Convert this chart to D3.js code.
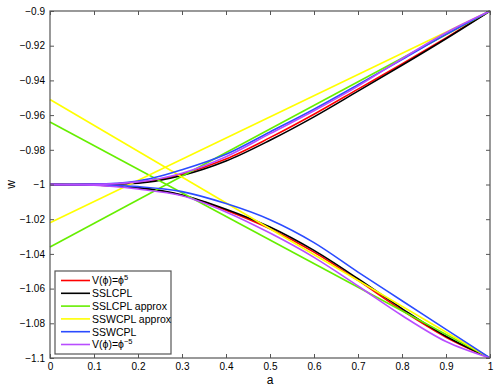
<!DOCTYPE html>
<html>
<head>
<meta charset="utf-8">
<script src="https://cdn.jsdelivr.net/npm/d3@7"></script>
<style>
  body { margin: 0; background: #fff; }
  text { font-family: "Liberation Sans", Arial, sans-serif; }
</style>
</head>
<body>
<script>
// scale factor values along a
var aGrid = [0, 0.1, 0.2, 0.3, 0.4, 0.5, 0.6, 0.7, 0.8, 0.9, 1];

// upper branches (w -> -0.9)
var redUp    = [-1, -0.9999, -0.999, -0.994, -0.9853, -0.973, -0.9595, -0.945, -0.9305, -0.9155, -0.9];
var blackUp  = [-1, -0.9999, -0.9992, -0.9948, -0.9865, -0.9745, -0.961, -0.9462, -0.9313, -0.916, -0.9];
var blueUp   = [-1, -0.9998, -0.998, -0.9915, -0.9826, -0.9697, -0.9566, -0.9425, -0.928, -0.9135, -0.9];
var purpleUp = [-1, -0.9999, -0.9985, -0.9935, -0.984, -0.9707, -0.9575, -0.9433, -0.9275, -0.9125, -0.9];

// lower branches (w -> -1.1)
var redLo    = [-1, -1.0003, -1.002, -1.0062, -1.0148, -1.0255, -1.039, -1.0553, -1.0725, -1.088, -1.1];
var blackLo  = [-1, -1.0003, -1.0018, -1.006, -1.0142, -1.0245, -1.038, -1.0543, -1.0715, -1.0875, -1.1];
var blueLo   = [-1, -1.0002, -1.0012, -1.0041, -1.011, -1.0203, -1.0335, -1.0505, -1.067, -1.0835, -1.1];
var purpleLo = [-1, -1.0004, -1.0026, -1.0065, -1.0158, -1.028, -1.042, -1.0585, -1.0755, -1.0905, -1.1];

// straight approximations: [w at a=0, w at a=1]
var aEnds = [0, 1];
var greenUp  = [-1.036, -0.9];
var greenLo  = [-0.964, -1.1];
var yellowUp = [-1.022, -0.9];
var yellowLo = [-0.951, -1.1];

var xTicks = [0, 0.1, 0.2, 0.3, 0.4, 0.5, 0.6, 0.7, 0.8, 0.9, 1];
var yTicks = [-1.1, -1.08, -1.06, -1.04, -1.02, -1, -0.98, -0.96, -0.94, -0.92, -0.9];

var legendNames = ["V(\u03d5)=\u03d5", "SSLCPL", "SSLCPL approx", "SSWCPL approx", "SSWCPL", "V(\u03d5)=\u03d5"];
var legendSup = ["5", "", "", "", "", "\u22125"];
var colors = ["#ff0000", "#000000", "#66ee00", "#ffff00", "#2a4bff", "#b84dff"];

window.onload = function () {
    var w = 498, h = 391;
    var pLeft = 50, pRight = 490, pTop = 11, pBottom = 358;

    var svg = d3.select("body").append("svg")
        .attr("width", w)
        .attr("height", h);

    var x = d3.scaleLinear().domain([0, 1]).range([pLeft, pRight]);
    var y = d3.scaleLinear().domain([-1.1, -0.9]).range([pBottom, pTop]);

    // series in drawing order (legend order)
    var series = [
        {c: 0, a: aGrid, up: redUp, lo: redLo},
        {c: 1, a: aGrid, up: blackUp, lo: blackLo},
        {c: 2, a: aEnds, up: greenUp, lo: greenLo},
        {c: 3, a: aEnds, up: yellowUp, lo: yellowLo},
        {c: 4, a: aGrid, up: blueUp, lo: blueLo},
        {c: 5, a: aGrid, up: purpleUp, lo: purpleLo}
    ];

    var line = d3.line()
        .x(function(d) { return x(d[0]); })
        .y(function(d) { return y(d[1]); })
        .curve(d3.curveMonotoneX);

    var plot = svg.append("g");
    series.forEach(function(s) {
        [s.up, s.lo].forEach(function(vals) {
            plot.append("path")
                .datum(s.a.map(function(a, i) { return [a, vals[i]]; }))
                .attr("d", line)
                .attr("fill", "none")
                .attr("stroke", colors[s.c])
                .attr("stroke-width", 1.6);
        });
    });

    // axes with inward ticks on all four sides
    var fmt = d3.format("");
    var axColor = "#555";
    function styleAxis(g) {
        g.select(".domain").remove();
        g.selectAll("line").attr("stroke", axColor);
        g.selectAll("text").attr("font-size", 10).attr("fill", "#000");
    }
    svg.append("g").attr("transform", "translate(0," + pBottom + ")")
        .call(d3.axisBottom(x).tickValues(xTicks).tickFormat(fmt).tickSizeInner(-4).tickSizeOuter(0).tickPadding(5))
        .call(styleAxis);
    svg.append("g").attr("transform", "translate(0," + pTop + ")")
        .call(d3.axisTop(x).tickValues(xTicks).tickFormat("").tickSizeInner(-4).tickSizeOuter(0))
        .call(styleAxis);
    svg.append("g").attr("transform", "translate(" + pLeft + ",0)")
        .call(d3.axisLeft(y).tickValues(yTicks).tickFormat(fmt).tickSizeInner(-4).tickSizeOuter(0).tickPadding(5))
        .call(styleAxis);
    svg.append("g").attr("transform", "translate(" + pRight + ",0)")
        .call(d3.axisRight(y).tickValues(yTicks).tickFormat("").tickSizeInner(-4).tickSizeOuter(0))
        .call(styleAxis);

    svg.append("rect")
        .attr("x", pLeft).attr("y", pTop)
        .attr("width", pRight - pLeft).attr("height", pBottom - pTop)
        .attr("fill", "none")
        .attr("stroke", axColor)
        .attr("stroke-width", 1.2);

    // axis labels
    svg.append("text")
        .attr("x", (pLeft + pRight) / 2).attr("y", 384)
        .attr("text-anchor", "middle")
        .attr("font-size", 12)
        .text("a");
    svg.append("text")
        .attr("transform", "translate(15," + y(-1) + ") rotate(-90)")
        .attr("text-anchor", "middle")
        .attr("font-size", 12)
        .text("w");

    // legend
    var legend = svg.append("g");
    legend.append("rect")
        .attr("x", 55).attr("y", 271)
        .attr("width", 116).attr("height", 83)
        .attr("fill", "#fff")
        .attr("stroke", axColor)
        .attr("stroke-width", 1.2);
    legendNames.forEach(function(name, i) {
        var ly = 280.5 + i * 12.8;
        legend.append("line")
            .attr("x1", 61).attr("x2", 90)
            .attr("y1", ly).attr("y2", ly)
            .attr("stroke", colors[i])
            .attr("stroke-width", 1.6);
        var t = legend.append("text")
            .attr("x", 92).attr("y", ly + 3.8)
            .attr("font-size", 10.5)
            .text(name);
        if (legendSup[i]) {
            t.append("tspan")
                .attr("dy", -4)
                .attr("font-size", 7.5)
                .text(legendSup[i]);
        }
    });
};
</script>
</body>
</html>
